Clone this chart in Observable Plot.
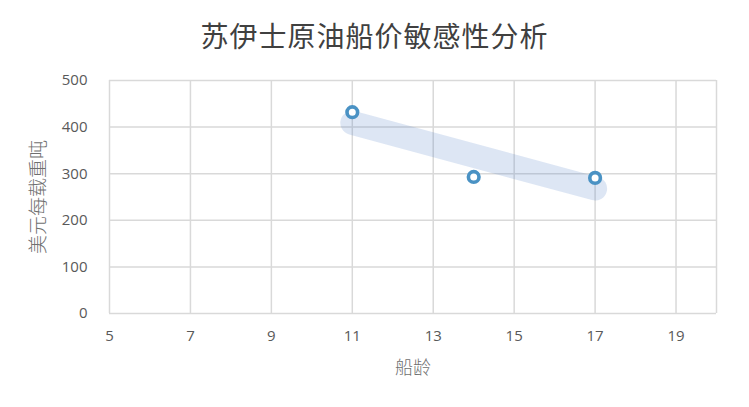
<!DOCTYPE html>
<html><head><meta charset="utf-8">
<script src="https://cdn.jsdelivr.net/npm/d3@7"></script>
<script src="https://cdn.jsdelivr.net/npm/@observablehq/plot@0.6"></script>
<style>
body{margin:0;background:#fff;}
#wrap{width:749px;height:407px;position:relative;overflow:hidden;}
#title{height:50px;line-height:50px;padding-top:10px;box-sizing:border-box;text-align:center;font-family:"Noto Sans CJK SC",sans-serif;font-size:28px;color:#404040;letter-spacing:1px;}
svg{display:block;}
</style></head><body>
<div id="wrap"><div id="title"></div><div id="chart"></div></div>
<script>
const titleText = "苏伊士原油船价敏感性分析";
const xLabel = "船龄";
const yLabel = "美元每载重吨";
const shipAge = [11, 14, 17];
const pricePerDwt = [432, 293, 291];
const xTicks = [5, 7, 9, 11, 13, 15, 17, 19];
const xGrid = [5, 7, 9, 11, 13, 15, 17, 19, 20];
const yTicks = [0, 100, 200, 300, 400, 500];

document.getElementById("title").textContent = titleText;
const data = shipAge.map((x, i) => ({x, y: pricePerDwt[i]}));
const font = "'Open Sans','Noto Sans',sans-serif";
const tc = "#595959";
const cjk = "'Noto Sans CJK SC',sans-serif";

const chart = Plot.plot({
  width: 749, height: 357,
  marginLeft: 109, marginRight: 33, marginTop: 30, marginBottom: 94,
  style: {fontFamily: font, fontSize: "15px", color: tc, background: "#fff"},
  x: {domain: [5, 20], label: null},
  y: {domain: [0, 500], label: null},
  marks: [
    Plot.ruleX(xGrid, {stroke: "#d9d9d9", strokeWidth: 1.5}),
    Plot.ruleY(yTicks, {stroke: "#d9d9d9", strokeWidth: 1.5}),
    Plot.axisX({ticks: xTicks, tickSize: 0, tickPadding: 17, fill: tc, fontSize: 15}),
    Plot.axisY({ticks: yTicks, tickSize: 0, tickPadding: 22, fill: tc, fontSize: 15}),
    Plot.text([xLabel], {frameAnchor: "bottom", textAnchor: "middle", lineAnchor: "middle", dy: 55, fill: "#6f6f6f", fontSize: 18, fontFamily: cjk, fontWeight: 300}),
    Plot.text([yLabel], {frameAnchor: "left", textAnchor: "middle", lineAnchor: "middle", dx: -71, rotate: -90, fill: "#6f6f6f", fontSize: 19, fontFamily: cjk, fontWeight: 300}),
    Plot.linearRegressionY(data, {x: "x", y: "y", ci: 0, stroke: "#4472c4", strokeOpacity: 0.18, strokeWidth: 24, strokeLinecap: "round"}),
    Plot.dot(data, {x: "x", y: "y", r: 5.3, fill: "white", stroke: "#4a92c4", strokeWidth: 3.6})
  ]
});
document.getElementById("chart").appendChild(chart);
</script>
</body></html>
